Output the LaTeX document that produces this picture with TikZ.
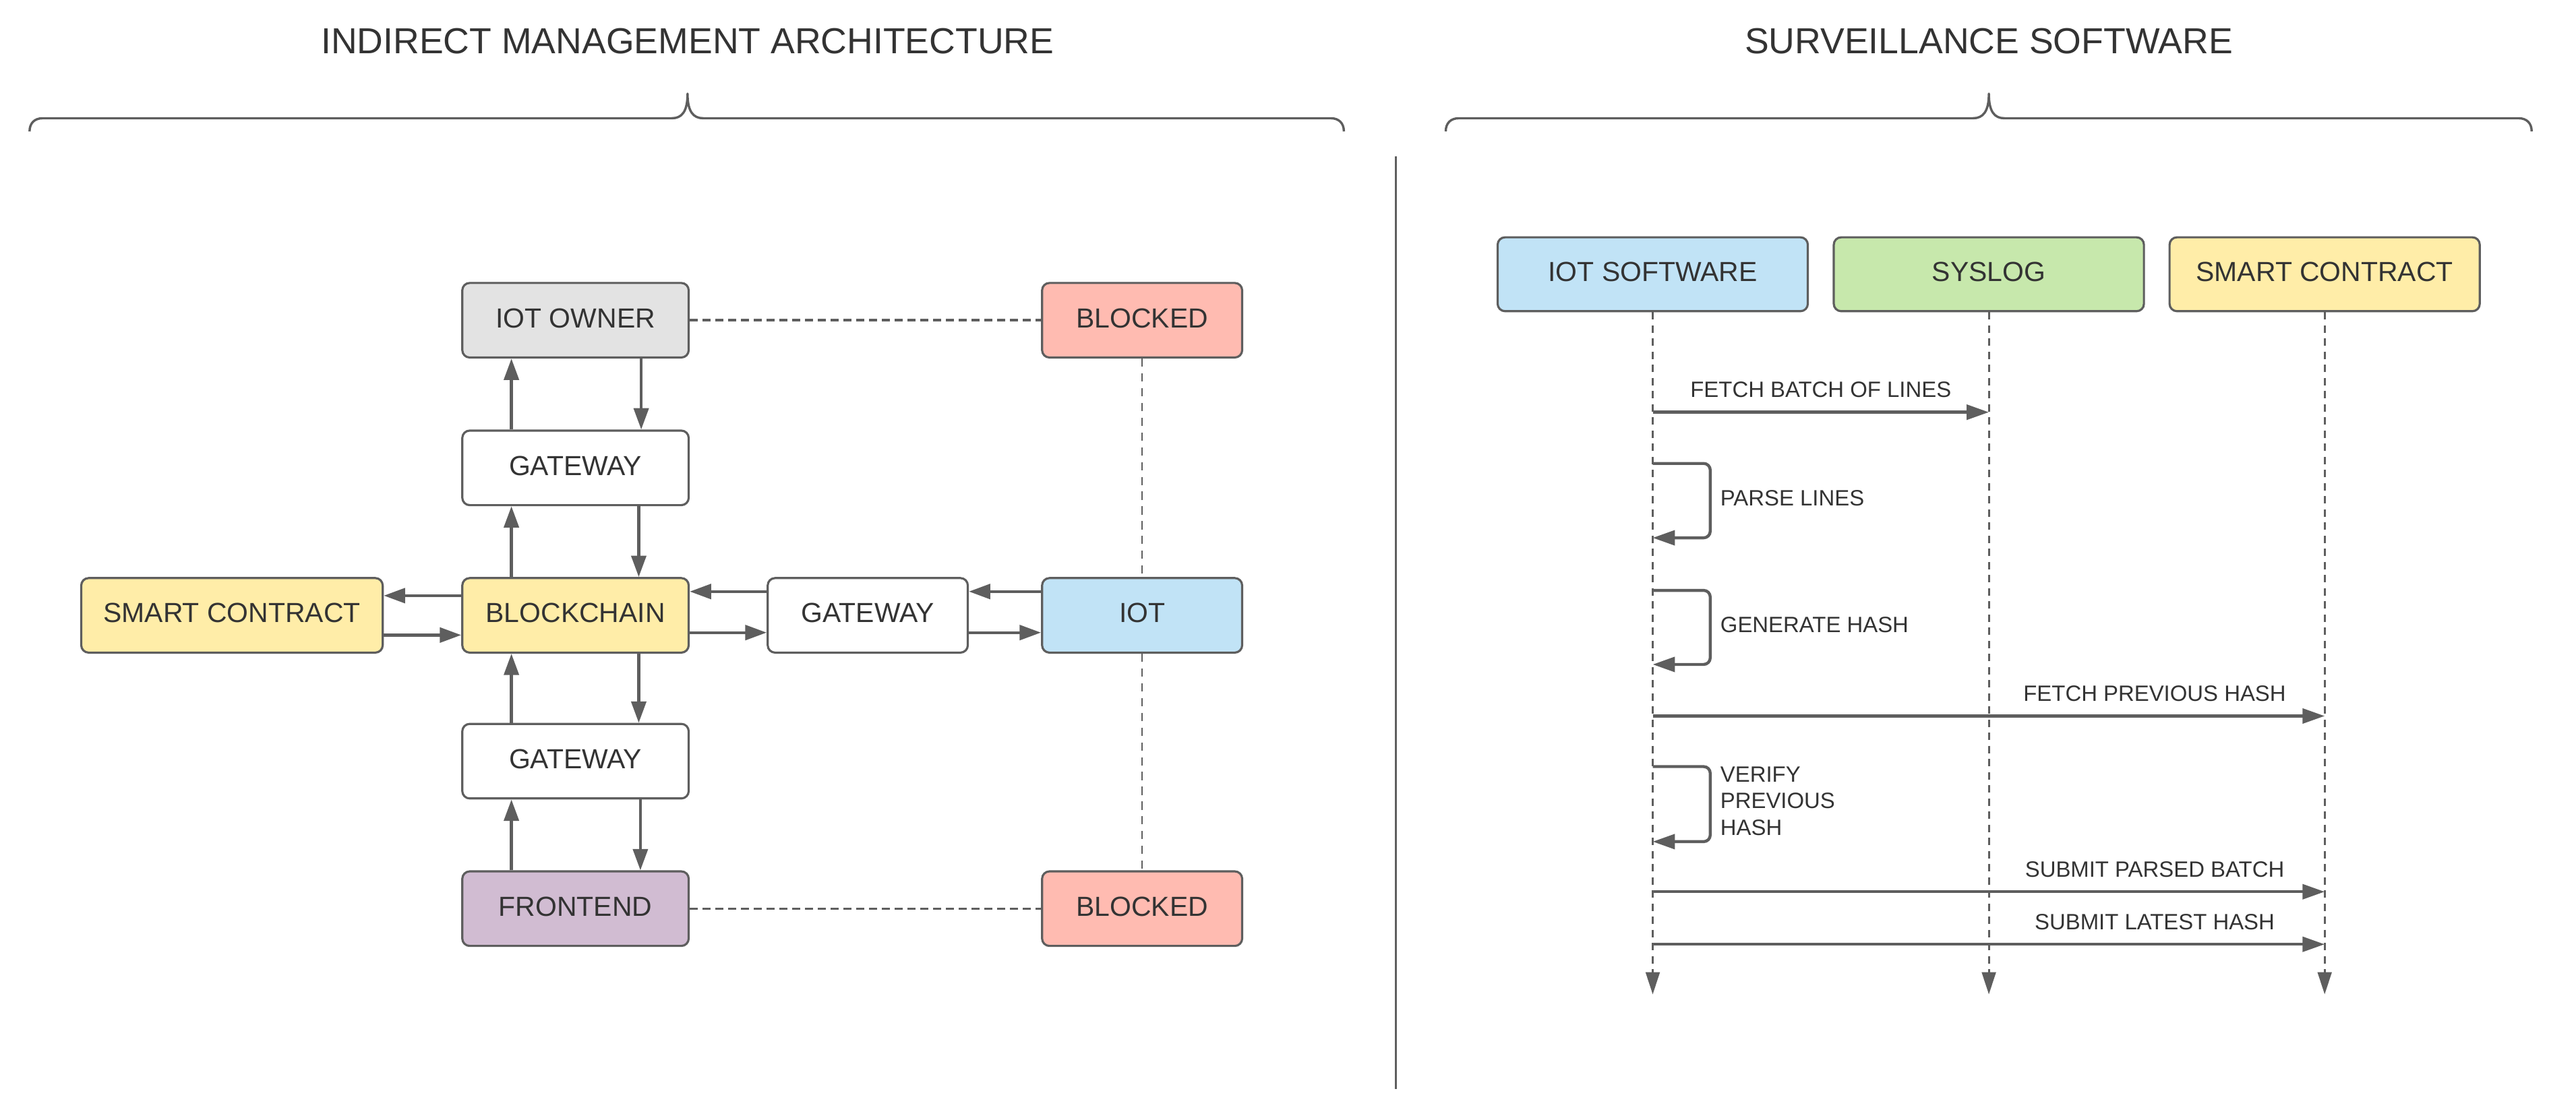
\documentclass[tikz,border=0pt]{standalone}
\usepackage{fontspec}
\setmainfont{Liberation Sans}
\usepackage{xcolor}
\usetikzlibrary{arrows.meta}

\definecolor{edgegray}{HTML}{5E5E5E}
\definecolor{inkgray}{HTML}{333333}
\definecolor{ownergray}{HTML}{E3E3E3}
\definecolor{blockedred}{HTML}{FFBBB1}
\definecolor{chainyellow}{HTML}{FFEDA8}
\definecolor{iotblue}{HTML}{C1E3F6}
\definecolor{sysgreen}{HTML}{C7E8AC}
\definecolor{frontpurple}{HTML}{D1BCD2}

\newcommand\titlefont{\fontsize{22}{26}\selectfont}
\newcommand\boxfont{\fontsize{16.8}{20}\selectfont}
\newcommand\msgfont{\fontsize{13.5}{16.2}\selectfont}

\tikzset{
  box/.style={draw=edgegray, line width=1.3pt, rounded corners=4.5pt, inner sep=0pt,
    minimum width=137.8pt, minimum height=45.4pt, text depth=2.8pt, font=\boxfont, text=inkgray},
  smallbox/.style={box, minimum width=121.8pt},
  headbox/.style={box, minimum width=188.8pt, minimum height=45pt},
  arr/.style={draw=edgegray, line width=1.8pt, -{Triangle[length=13pt,width=9pt]}},
  link/.style={draw=edgegray, line width=1.5pt, dash pattern=on 4.7pt off 3.1pt},
  vlink/.style={draw=edgegray, line width=1.1pt, dash pattern=on 5pt off 4pt},
  life/.style={draw=edgegray, line width=1.2pt, dash pattern=on 4.5pt off 3.5pt,
    -{Triangle[length=13.5pt,width=8.5pt]}},
  msg/.style={draw=edgegray, line width=1.8pt, -{Triangle[length=13.5pt,width=9pt]}},
  lbl/.style={font=\msgfont, text=inkgray, inner sep=0pt},
  brace/.style={draw=edgegray, line width=1.4pt, line join=round},
}

\begin{document}
\begin{tikzpicture}[x=1pt,y=-1pt]
  \useasboundingbox (0,0) rectangle (1568,680.4);

  % titles and braces
  \node[font=\titlefont, text=inkgray, inner sep=0pt] (archtitle) at (418.5,25) {INDIRECT MANAGEMENT ARCHITECTURE};
  \node[font=\titlefont, text=inkgray, inner sep=0pt] (survtitle) at (1210.6,25) {SURVEILLANCE SOFTWARE};
  \draw[brace] (18,80) .. controls (18,75) and (21,72) .. (26,72) -- (409,72) .. controls (415,72) and (418.5,68) .. (418.5,57)
    .. controls (418.5,68) and (422,72) .. (428,72) -- (810,72) .. controls (815,72) and (818,75) .. (818,80);
  \draw[brace] (880,80) .. controls (880,75) and (883,72) .. (888,72) -- (1201,72) .. controls (1207,72) and (1210.6,68) .. (1210.6,57)
    .. controls (1210.6,68) and (1214,72) .. (1220,72) -- (1533,72) .. controls (1538,72) and (1541,75) .. (1541,80);
  \draw[draw=edgegray, line width=1.2pt] (849.5,95) -- (849.5,663);

  % indirect management architecture
  \node[box, fill=ownergray] (owner) at (350.3,195) {IOT OWNER};
  \node[box] (gwtop) at (350.3,284.9) {GATEWAY};
  \node[box, fill=chainyellow] (chain) at (350.3,374.7) {BLOCKCHAIN};
  \node[box] (gwbot) at (350.3,463.5) {GATEWAY};
  \node[box, fill=frontpurple] (front) at (350.3,553.3) {FRONTEND};
  \node[box, fill=chainyellow, minimum width=183.5pt] (contract) at (141.2,374.7) {SMART CONTRACT};
  \node[smallbox] (gwmid) at (528.2,374.7) {GATEWAY};
  \node[smallbox, fill=iotblue] (iot) at (695.2,374.7) {IOT};
  \node[smallbox, fill=blockedred] (blktop) at (695.2,195) {BLOCKED};
  \node[smallbox, fill=blockedred] (blkbot) at (695.2,553.3) {BLOCKED};

  \draw[arr] ([xshift=-39pt]gwtop.north) -- ([xshift=-39pt]owner.south);
  \draw[arr] ([xshift=40pt]owner.south) -- ([xshift=40pt]gwtop.north);
  \draw[arr] ([xshift=-39pt]chain.north) -- ([xshift=-39pt]gwtop.south);
  \draw[arr] ([xshift=38.5pt]gwtop.south) -- ([xshift=38.5pt]chain.north);
  \draw[arr] ([xshift=-39pt]gwbot.north) -- ([xshift=-39pt]chain.south);
  \draw[arr] ([xshift=38.5pt]chain.south) -- ([xshift=38.5pt]gwbot.north);
  \draw[arr] ([xshift=-39pt]front.north) -- ([xshift=-39pt]gwbot.south);
  \draw[arr] ([xshift=39.5pt]gwbot.south) -- ([xshift=39.5pt]front.north);

  \draw[arr] ([yshift=12pt]chain.west) -- ([yshift=12pt]contract.east);
  \draw[arr] ([yshift=-12pt]contract.east) -- ([yshift=-12pt]chain.west);
  \draw[arr] ([yshift=14.5pt]gwmid.west) -- ([yshift=14.5pt]chain.east);
  \draw[arr] ([yshift=-10.5pt]chain.east) -- ([yshift=-10.5pt]gwmid.west);
  \draw[arr] ([yshift=14.5pt]iot.west) -- ([yshift=14.5pt]gwmid.east);
  \draw[arr] ([yshift=-10.5pt]gwmid.east) -- ([yshift=-10.5pt]iot.west);

  \draw[link] (owner.east) -- (blktop.west);
  \draw[link] (front.east) -- (blkbot.west);
  \draw[vlink] (blktop.south) -- (iot.north);
  \draw[vlink] (iot.south) -- (blkbot.north);

  % surveillance software
  \node[headbox, fill=iotblue] (iotsw) at (1006,167) {IOT SOFTWARE};
  \node[headbox, fill=sysgreen] (syslog) at (1210.6,167) {SYSLOG};
  \node[headbox, fill=chainyellow] (scontract) at (1415,167) {SMART CONTRACT};
  \coordinate (iotswend) at (1006,605.5);
  \coordinate (syslogend) at (1210.6,605.5);
  \coordinate (scontractend) at (1415,605.5);
  \draw[life] (iotsw.south) -- (iotswend);
  \draw[life] (syslog.south) -- (syslogend);
  \draw[life] (scontract.south) -- (scontractend);

  \draw[msg] (iotsw |- 0,251) -- node[lbl, above=8pt] {FETCH BATCH OF LINES} (syslog |- 0,251);
  \draw[msg, rounded corners=4pt] (iotsw |- 0,282.2) -| ++(35,45.3) -- (iotsw |- 0,327.5);
  \node[lbl, anchor=west] (parse) at (1047,303.3) {PARSE LINES};
  \draw[msg, rounded corners=4pt] (iotsw |- 0,359.5) -| ++(35,45.1) -- (iotsw |- 0,404.6);
  \node[lbl, anchor=west] (genhash) at (1047,380.4) {GENERATE HASH};
  \draw[msg] (iotsw |- 0,436) -- node[lbl, pos=0.747, above=8pt] {FETCH PREVIOUS HASH} (scontract |- 0,436);
  \draw[msg, rounded corners=4pt] (iotsw |- 0,466.8) -| ++(35,45.7) -- (iotsw |- 0,512.5);
  \node[lbl, anchor=west, align=left] (verify) at (1047,487.7) {VERIFY\\PREVIOUS\\HASH};
  \draw[msg] (iotsw |- 0,543) -- node[lbl, pos=0.747, above=8pt] {SUBMIT PARSED BATCH} (scontract |- 0,543);
  \draw[msg] (iotsw |- 0,575) -- node[lbl, pos=0.747, above=8pt] {SUBMIT LATEST HASH} (scontract |- 0,575);
\end{tikzpicture}
\end{document}
